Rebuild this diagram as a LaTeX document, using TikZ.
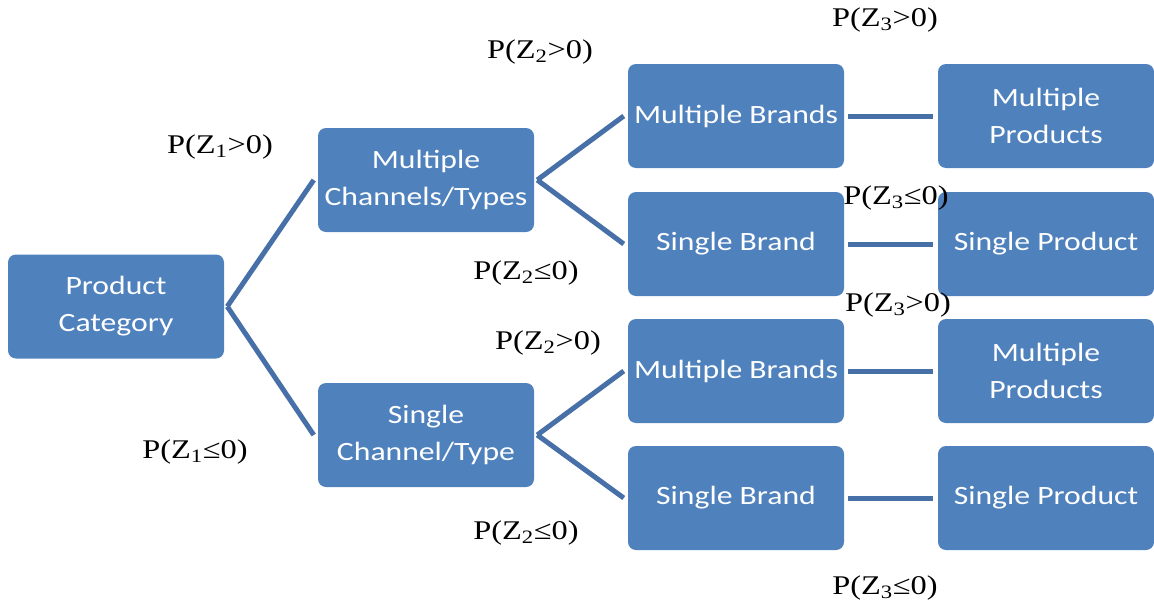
\documentclass[tikz,border=0pt]{standalone}
\usepackage{fontspec}
\newfontfamily\carlito{Carlito}
\newfontfamily\libser{Liberation Serif}
\definecolor{boxblue}{HTML}{4F81BD}
\definecolor{lineblue}{RGB}{72,112,168}
\tikzset{
  box/.style={rectangle, rounded corners=8pt, fill=boxblue, text=white,
    minimum width=180pt, minimum height=104pt, inner sep=0pt,
    xscale=1.2, transform shape, align=center,
    font=\carlito\fontsize{26.4}{37}\selectfont},
  lab/.style={inner sep=0pt, xscale=1.2, transform shape,
    font=\libser\fontsize{27}{31}\selectfont},
  conn/.style={draw=lineblue, line width=5pt}
}
\newcommand{\sbs}[1]{\textsubscript{#1}}
\begin{document}
\begin{tikzpicture}[x=1pt,y=-1pt]
\useasboundingbox (0,0) rectangle (1154,608);
% boxes
\node[box] (pc)  at (116,306.5) {Product\\Category};
\node[box] (mc)  at (426,180) {Multiple\\Channels/Types};
\node[box] (sc)  at (426,435) {Single\\Channel/Type};
\node[box] (mb1) at (736,116) {Multiple Brands};
\node[box] (sb1) at (736,244) {Single Brand};
\node[box] (mb2) at (736,371) {Multiple Brands};
\node[box] (sb2) at (736,498) {Single Brand};
\node[box] (mp1) at (1046,116) {Multiple\\Products};
\node[box] (sp1) at (1046,244) {Single Product};
\node[box] (mp2) at (1046,371) {Multiple\\Products};
\node[box] (sp2) at (1046,498) {Single Product};
% connectors
\draw[conn] ([xshift=3pt]pc.east) -- ([xshift=-4pt]mc.west);
\draw[conn] ([xshift=3pt]pc.east) -- ([xshift=-4pt]sc.west);
\draw[conn] ([xshift=3pt]mc.east) -- ([xshift=-4pt]mb1.west);
\draw[conn] ([xshift=3pt]mc.east) -- ([xshift=-4pt]sb1.west);
\draw[conn] ([xshift=3pt]sc.east) -- ([xshift=-4pt]mb2.west);
\draw[conn] ([xshift=3pt]sc.east) -- ([xshift=-4pt]sb2.west);
\draw[conn] ([xshift=4pt]mb1.east) -- ([xshift=-5pt]mp1.west);
\draw[conn] ([xshift=4pt]sb1.east) -- ([xshift=-5pt]sp1.west);
\draw[conn] ([xshift=4pt]mb2.east) -- ([xshift=-5pt]mp2.west);
\draw[conn] ([xshift=4pt]sb2.east) -- ([xshift=-5pt]sp2.west);
% labels
\node[lab] (l1a) at (220,147) {P(Z\sbs{1}>0)};
\node[lab] (l1b) at (195,452) {P(Z\sbs{1}≤0)};
\node[lab] (l2a) at (540,52)  {P(Z\sbs{2}>0)};
\node[lab] (l2b) at (526,273) {P(Z\sbs{2}≤0)};
\node[lab] (l3a) at (885,20)  {P(Z\sbs{3}>0)};
\node[lab] (l3b) at (896,198) {P(Z\sbs{3}≤0)};
\node[lab] (l3c) at (898,305) {P(Z\sbs{3}>0)};
\node[lab] (l2c) at (548,343) {P(Z\sbs{2}>0)};
\node[lab] (l2d) at (526,533) {P(Z\sbs{2}≤0)};
\node[lab] (l3d) at (885,588) {P(Z\sbs{3}≤0)};
\end{tikzpicture}
\end{document}
